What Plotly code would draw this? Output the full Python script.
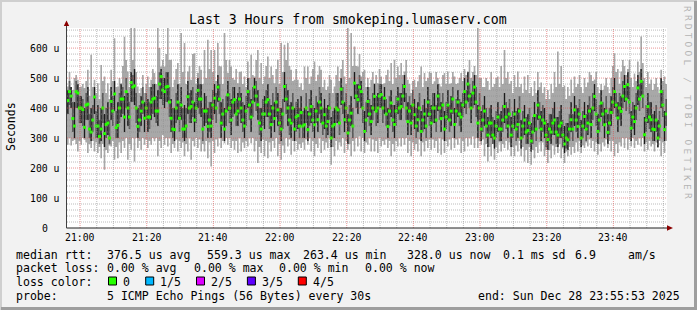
import plotly.graph_objects as go
import pandas as pd

# ---------------- data (two 30 s samples per minute, microseconds) ----------------
# "_a" = first 30 s sample of each minute, "_b" = second 30 s sample
median_a_us = [425, 440, 340, 450, 400, 336, 413, 320, 437, 340, 330, 315, 350, 422, 447, 342, 430, 370, 400, 485,
               474, 339, 390, 366, 370, 420, 433, 390, 505, 455, 472, 366, 328, 420, 410, 330, 438, 405, 360, 459,
               430, 390, 339, 340, 433, 470, 350, 330, 444, 360, 428, 390, 400, 340, 455, 370, 470, 411, 330, 380,
               428, 345, 365, 394, 330, 472, 400, 350, 330, 375, 385, 344, 328, 405, 344, 361, 400, 378, 355, 300,
               345, 394, 463, 361, 317, 383, 483, 428, 455, 322, 422, 355, 439, 400, 445, 433, 339, 417, 345, 430,
               405, 472, 355, 350, 378, 361, 322, 380, 420, 350, 400, 440, 365, 330, 410, 390, 345, 420, 370, 455,
               480, 400, 470, 350, 330, 390, 310, 350, 300, 370, 330, 405, 340, 310, 380, 345, 300, 360, 325, 290,
               375, 410, 330, 350, 295, 320, 360, 310, 350, 280, 294, 361, 394, 339, 300, 372, 350, 345, 439, 322,
               417, 344, 319, 385, 455, 367, 389, 472, 478, 333, 355, 467, 489, 311, 405, 361, 328, 300, 455, 328]
median_b_us = [455, 365, 455, 400, 395, 410, 330, 360, 340, 305, 400, 345, 300, 390, 335, 400, 430, 455, 370, 470,
               400, 360, 420, 400, 370, 430, 390, 480, 460, 470, 420, 330, 400, 366, 330, 340, 400, 420, 400, 430,
               330, 390, 360, 410, 400, 430, 380, 390, 400, 420, 380, 430, 360, 390, 410, 420, 440, 350, 380, 420,
               380, 400, 420, 350, 380, 430, 360, 400, 370, 340, 340, 400, 380, 360, 390, 420, 350, 340, 400, 340,
               400, 350, 420, 400, 360, 340, 440, 470, 400, 360, 380, 400, 390, 440, 400, 380, 390, 360, 390, 400,
               440, 400, 390, 410, 340, 400, 360, 340, 380, 400, 360, 400, 410, 370, 360, 430, 390, 380, 410, 420,
               440, 450, 420, 400, 360, 340, 350, 310, 340, 330, 360, 370, 380, 340, 330, 390, 340, 320, 350, 320,
               330, 370, 360, 310, 330, 350, 320, 340, 310, 300, 330, 330, 360, 380, 340, 330, 390, 400, 380, 360,
               380, 390, 350, 420, 410, 400, 440, 430, 420, 370, 400, 430, 440, 360, 370, 330, 360, 340, 410, 380]
upper_a_us = [460, 470, 420, 480, 440, 400, 470, 400, 470, 410, 400, 380, 420, 470, 490, 420, 480, 440, 450, 520,
              530, 400, 440, 420, 430, 470, 480, 460, 530, 500, 520, 430, 400, 480, 470, 410, 490, 460, 420, 500,
              480, 450, 400, 420, 480, 510, 420, 400, 490, 430, 470, 450, 450, 410, 500, 430, 500, 460, 400, 440,
              480, 410, 420, 450, 400, 520, 460, 420, 400, 430, 440, 400, 390, 460, 400, 420, 450, 430, 410, 370,
              400, 450, 500, 420, 380, 440, 520, 480, 490, 390, 470, 410, 480, 450, 480, 470, 400, 460, 410, 470,
              450, 510, 420, 410, 430, 420, 390, 430, 470, 410, 450, 480, 420, 390, 460, 440, 400, 460, 420, 500,
              520, 450, 510, 410, 390, 440, 370, 410, 360, 420, 390, 450, 400, 370, 430, 400, 360, 410, 380, 350,
              420, 460, 390, 400, 350, 380, 420, 370, 410, 340, 350, 420, 440, 400, 360, 420, 410, 400, 480, 380,
              460, 400, 380, 440, 500, 420, 440, 510, 520, 390, 410, 510, 530, 370, 450, 420, 390, 360, 500, 390]
upper_b_us = [490, 420, 490, 440, 430, 450, 380, 410, 390, 360, 450, 400, 360, 440, 390, 450, 470, 500, 420, 510,
              450, 410, 470, 450, 420, 480, 440, 520, 500, 520, 470, 400, 450, 420, 400, 400, 450, 470, 450, 480,
              400, 440, 420, 460, 450, 480, 430, 440, 450, 470, 430, 470, 420, 440, 460, 470, 490, 400, 430, 460,
              430, 450, 470, 400, 430, 480, 410, 450, 420, 400, 390, 450, 430, 410, 440, 470, 400, 400, 450, 390,
              450, 400, 470, 450, 410, 400, 480, 510, 450, 420, 430, 450, 440, 480, 440, 430, 440, 410, 440, 450,
              480, 450, 440, 460, 400, 450, 410, 400, 430, 450, 410, 450, 450, 420, 410, 470, 430, 430, 450, 460,
              480, 490, 470, 450, 410, 400, 400, 370, 390, 380, 410, 420, 430, 390, 390, 440, 390, 370, 400, 370,
              380, 420, 410, 360, 380, 400, 370, 390, 360, 350, 380, 380, 410, 430, 390, 380, 440, 450, 430, 410,
              420, 440, 400, 470, 450, 450, 490, 480, 470, 420, 450, 480, 490, 410, 420, 380, 410, 390, 460, 430]
lower_a_us = [380, 400, 300, 400, 350, 300, 360, 290, 380, 300, 290, 270, 310, 360, 390, 300, 370, 320, 340, 420,
              410, 300, 340, 320, 320, 360, 370, 340, 430, 400, 420, 320, 290, 360, 360, 290, 380, 350, 320, 400,
              370, 340, 300, 300, 380, 420, 300, 290, 390, 310, 380, 340, 350, 300, 400, 320, 420, 360, 290, 330,
              370, 300, 320, 340, 290, 420, 340, 300, 290, 330, 340, 300, 290, 350, 300, 320, 350, 330, 310, 270,
              300, 350, 410, 320, 280, 340, 430, 380, 400, 290, 370, 310, 390, 350, 400, 380, 300, 370, 300, 380,
              360, 420, 310, 310, 330, 320, 290, 330, 370, 300, 350, 390, 320, 290, 360, 340, 300, 370, 320, 400,
              420, 350, 410, 300, 290, 340, 270, 300, 265, 320, 290, 350, 300, 270, 330, 300, 265, 310, 280, 255,
              320, 360, 290, 300, 260, 280, 310, 270, 300, 250, 260, 320, 340, 300, 270, 330, 310, 300, 390, 280,
              370, 300, 280, 340, 400, 320, 340, 420, 430, 290, 310, 410, 440, 280, 350, 320, 290, 270, 400, 290]
lower_b_us = [410, 320, 400, 350, 340, 360, 300, 320, 300, 280, 350, 300, 280, 340, 300, 350, 380, 400, 330, 420,
              350, 320, 380, 360, 330, 380, 350, 430, 410, 420, 370, 300, 350, 320, 300, 300, 350, 370, 350, 380,
              290, 350, 320, 360, 350, 380, 340, 340, 350, 370, 340, 380, 320, 340, 360, 370, 390, 310, 340, 370,
              330, 350, 370, 310, 330, 380, 310, 350, 320, 300, 300, 350, 340, 320, 350, 380, 310, 300, 360, 300,
              350, 310, 380, 350, 320, 300, 400, 420, 350, 320, 340, 360, 340, 400, 350, 340, 340, 320, 340, 360,
              400, 360, 350, 360, 300, 360, 320, 300, 340, 350, 320, 360, 370, 330, 320, 380, 350, 340, 370, 380,
              400, 400, 370, 360, 320, 300, 310, 280, 300, 290, 320, 330, 340, 300, 290, 350, 300, 280, 310, 280,
              290, 330, 320, 270, 290, 310, 280, 300, 270, 265, 290, 290, 320, 340, 300, 290, 350, 360, 340, 320,
              340, 350, 310, 380, 370, 360, 400, 390, 380, 330, 360, 390, 400, 320, 330, 290, 320, 300, 370, 340]
min_a_us = [278, 275, 294, 255, 278, 294, 250, 267, 255, 250, 233, 194, 250, 272, 228, 233, 250, 267, 228, 261,
            222, 267, 261, 278, 267, 278, 289, 239, 267, 278, 272, 250, 267, 255, 267, 239, 255, 228, 272, 267,
            255, 255, 233, 205, 250, 272, 267, 283, 278, 267, 261, 250, 255, 267, 272, 283, 255, 217, 250, 239,
            233, 255, 267, 239, 228, 250, 272, 244, 255, 261, 267, 261, 278, 255, 239, 267, 250, 261, 267, 211,
            239, 261, 272, 250, 261, 239, 255, 272, 255, 250, 278, 255, 255, 250, 272, 278, 267, 239, 255, 272,
            272, 278, 250, 239, 261, 255, 239, 255, 267, 261, 267, 250, 244, 250, 272, 261, 267, 278, 250, 255,
            272, 278, 267, 267, 278, 239, 222, 239, 228, 250, 255, 267, 261, 239, 239, 255, 239, 222, 217, 211,
            233, 250, 255, 239, 217, 233, 244, 250, 233, 217, 239, 244, 250, 255, 250, 267, 272, 267, 255, 244,
            255, 272, 267, 255, 239, 250, 272, 267, 261, 272, 267, 278, 272, 255, 261, 272, 255, 267, 239, 250]
min_b_us = [300, 290, 280, 290, 300, 285, 280, 290, 285, 270, 280, 260, 275, 290, 270, 285, 290, 300, 280, 300,
            300, 290, 300, 295, 290, 300, 300, 290, 310, 300, 300, 280, 295, 290, 285, 280, 300, 290, 300, 295,
            280, 290, 285, 290, 295, 300, 290, 300, 300, 290, 290, 300, 285, 290, 300, 300, 290, 270, 295, 290,
            285, 290, 300, 280, 275, 300, 295, 290, 290, 280, 285, 295, 300, 290, 280, 300, 290, 285, 300, 270,
            290, 285, 300, 290, 280, 290, 300, 305, 300, 285, 300, 295, 290, 300, 290, 295, 290, 280, 290, 300,
            300, 300, 290, 285, 280, 295, 285, 290, 295, 295, 290, 300, 295, 290, 295, 300, 295, 300, 290, 300,
            300, 305, 300, 290, 295, 280, 270, 280, 270, 285, 280, 290, 285, 270, 275, 290, 270, 260, 270, 260,
            270, 285, 285, 260, 260, 275, 270, 280, 265, 255, 270, 270, 285, 290, 275, 285, 295, 290, 285, 280,
            285, 295, 290, 290, 280, 285, 300, 300, 295, 300, 290, 300, 300, 285, 290, 280, 285, 290, 285, 290]
max_a_us = [472, 470, 500, 494, 472, 467, 528, 578, 494, 483, 544, 505, 483, 528, 633, 472, 483, 638, 522, 667,
            667, 472, 467, 450, 505, 494, 517, 667, 539, 539, 667, 561, 494, 550, 650, 617, 522, 494, 583, 517,
            528, 594, 628, 594, 594, 617, 539, 650, 517, 539, 494, 483, 522, 505, 555, 578, 505, 594, 550, 505,
            572, 539, 483, 561, 617, 611, 617, 528, 494, 494, 483, 539, 539, 505, 555, 511, 528, 494, 472, 494,
            472, 539, 530, 505, 667, 650, 605, 539, 505, 528, 500, 494, 483, 483, 505, 483, 528, 550, 561, 539,
            550, 522, 494, 450, 494, 489, 539, 517, 500, 517, 489, 500, 472, 517, 522, 483, 505, 483, 517, 530,
            522, 500, 540, 667, 500, 470, 490, 520, 480, 505, 540, 594, 520, 490, 510, 522, 480, 505, 510, 470,
            490, 520, 485, 470, 460, 480, 520, 589, 540, 475, 470, 495, 505, 480, 470, 500, 485, 510, 495, 470,
            480, 475, 470, 500, 583, 530, 522, 540, 530, 500, 515, 555, 639, 500, 520, 495, 480, 470, 528, 505]
max_b_us = [520, 460, 510, 470, 480, 490, 440, 470, 450, 430, 490, 450, 430, 490, 470, 500, 540, 560, 470, 560,
            520, 450, 510, 480, 470, 530, 480, 600, 560, 580, 560, 470, 530, 480, 520, 480, 540, 580, 480, 540,
            480, 500, 530, 520, 490, 540, 480, 560, 560, 500, 530, 520, 480, 470, 500, 510, 560, 500, 480, 540,
            500, 510, 530, 480, 520, 560, 540, 490, 530, 470, 460, 500, 480, 530, 490, 540, 470, 460, 510, 450,
            510, 490, 560, 480, 500, 540, 540, 580, 520, 470, 470, 520, 510, 530, 480, 510, 490, 480, 500, 510,
            510, 560, 480, 490, 470, 510, 470, 490, 520, 480, 520, 480, 510, 480, 480, 520, 480, 500, 490, 510,
            560, 520, 510, 500, 470, 500, 460, 470, 500, 470, 480, 500, 480, 450, 470, 470, 450, 460, 450, 440,
            450, 470, 450, 430, 430, 450, 470, 480, 470, 430, 440, 450, 470, 510, 450, 470, 520, 490, 520, 450,
            460, 500, 450, 540, 520, 480, 560, 510, 560, 470, 490, 520, 550, 470, 480, 460, 500, 450, 490, 480]

y_tick_values = [0, 100, 200, 300, 400, 500, 600]
y_tick_labels = ["0", "100 u", "200 u", "300 u", "400 u", "500 u", "600 u"]
x_tick_labels = ["21:00", "21:20", "21:40", "22:00", "22:20", "22:40", "23:00", "23:20", "23:40"]

title_text = "Last 3 Hours from smokeping.lumaserv.com"
legend_rows = [
    [(16, "median rtt:"), (107, "376.5 us avg"), (207.3, "559.3 us max"), (303, "263.4 us min"),
     (407.3, "328.0 us now"), (503, "0.1 ms sd"), (575, "6.9"), (628.3, "am/s")],
    [(16, "packet loss:"), (107, "0.00 % avg"), (193.7, "0.00 % max"), (279.3, "0.00 % min"), (365, "0.00 % now")],
    [(16, "loss color:")],
    [(16, "probe:"), (107, "5 ICMP Echo Pings (56 Bytes) every 30s"), (478.3, "end: Sun Dec 28 23:55:53 2025")],
]
loss_labels = ["0", "1/5", "2/5", "3/5", "4/5"]
loss_colors = ["#26ff00", "#00b8ff", "#dd00ff", "#5e00ff", "#ff0000"]

# ---------------- geometry ----------------
W, H = 697, 310
L, R, T, B = 67, 30, 28, 82
PW, PH = W - L - R, H - T - B
YMAX = 667


def px(x):
    return (x - L) / PW


def py(y):
    return (H - B - y) / PH


start = pd.Timestamp("2025-12-28 20:56:05")
end = start + pd.Timedelta(minutes=180)

# interleave the two 30 s samples in time order (step start times)
n = len(median_a_us)
t_start, med, upp, low, mn, mx = [], [], [], [], [], []
for k in range(n):
    for off, m_, u_, l_, a_, b_ in ((0, median_a_us, upper_a_us, lower_a_us, min_a_us, max_a_us),
                                    (30, median_b_us, upper_b_us, lower_b_us, min_b_us, max_b_us)):
        t_start.append(start + pd.Timedelta(seconds=60 * k + off))
        med.append(m_[k]); upp.append(u_[k]); low.append(l_[k]); mn.append(a_[k]); mx.append(b_[k])
t_centre = [t + pd.Timedelta(seconds=15) for t in t_start]
# close the last step at the right edge
t_step = t_start + [end]
mn_s, mx_s, low_s, upp_s = mn + [mn[-1]], mx + [mx[-1]], low + [low[-1]], upp + [upp[-1]]

# darkest core strokes (first sample of every minute)
core_x, core_y = [], []
for k in range(n):
    tc = start + pd.Timedelta(seconds=60 * k + 15)
    core_x += [tc, tc, None]
    core_y += [lower_a_us[k], upper_a_us[k], None]

FONT = "DejaVu Sans Mono"
fig = go.Figure()
step = dict(shape="hv", width=0)
fig.add_trace(go.Scatter(x=t_step, y=mn_s, mode="lines", line=step, hoverinfo="skip"))
fig.add_trace(go.Scatter(x=t_step, y=mx_s, mode="lines", line=step, fill="tonexty",
                         fillcolor="#a8a8a8", hoverinfo="skip"))
fig.add_trace(go.Scatter(x=t_step, y=low_s, mode="lines", line=step, hoverinfo="skip"))
fig.add_trace(go.Scatter(x=t_step, y=upp_s, mode="lines", line=step, fill="tonexty",
                         fillcolor="#5c5c5c", hoverinfo="skip"))
fig.add_trace(go.Scatter(x=core_x, y=core_y, mode="lines", line=dict(color="#1c1c1c", width=1),
                         connectgaps=False, hoverinfo="skip"))
fig.add_trace(go.Scatter(x=t_centre, y=med, mode="markers",
                         marker=dict(symbol="square", size=3, color="#26ff00", line=dict(width=0)),
                         hoverinfo="skip"))

shapes = []
# grid lines (drawn on top, like rrdtool)
for v in range(20, YMAX, 20):
    major = v % 100 == 0
    shapes.append(dict(type="line", xref="paper", yref="y", x0=0, x1=1, y0=v, y1=v, layer="above",
                       line=dict(color="rgba(222,80,80,0.6)" if major else "rgba(143,143,143,0.6)",
                                 width=1, dash="1px,1px")))
t = pd.Timestamp("2025-12-28 21:00:00")
while t < end:
    if t > start:
        major = t.minute % 20 == 0
        shapes.append(dict(type="line", xref="x", yref="paper", x0=t, x1=t, y0=0, y1=1, layer="above",
                           line=dict(color="rgba(222,80,80,0.6)" if major else "rgba(143,143,143,0.6)",
                                     width=1, dash="1px,1px")))
    t += pd.Timedelta(minutes=5)

# axes lines + arrows
shapes.append(dict(type="line", xref="paper", yref="paper", x0=px(66.5), x1=px(668), y0=0, y1=0,
                   layer="above", line=dict(color="#202020", width=1)))
shapes.append(dict(type="line", xref="paper", yref="paper", x0=px(66.5), x1=px(66.5), y0=0, y1=py(23),
                   layer="above", line=dict(color="#404040", width=1)))
shapes.append(dict(type="path", xref="paper", yref="paper", layer="above",
                   path=f"M {px(667)} {py(225.3)} L {px(673)} {py(228)} L {px(667)} {py(230.7)} Z",
                   fillcolor="#8b0000", line=dict(width=0)))
shapes.append(dict(type="path", xref="paper", yref="paper", layer="above",
                   path=f"M {px(63.8)} {py(26)} L {px(66.5)} {py(20.5)} L {px(69.2)} {py(26)} Z",
                   fillcolor="#8b0000", line=dict(width=0)))
# 3D frame
shapes.append(dict(type="rect", xref="paper", yref="paper", x0=px(0), x1=px(W), y0=py(0), y1=py(2),
                   fillcolor="#cfcfcf", line=dict(width=0), layer="above"))
shapes.append(dict(type="rect", xref="paper", yref="paper", x0=px(0), x1=px(2), y0=py(0), y1=py(H),
                   fillcolor="#cfcfcf", line=dict(width=0), layer="above"))
shapes.append(dict(type="rect", xref="paper", yref="paper", x0=px(W - 3), x1=px(W), y0=py(1), y1=py(H),
                   fillcolor="#9e9e9e", line=dict(width=0), layer="above"))
shapes.append(dict(type="rect", xref="paper", yref="paper", x0=px(1), x1=px(W), y0=py(H - 3), y1=py(H),
                   fillcolor="#9e9e9e", line=dict(width=0), layer="above"))
# loss color boxes
box_x = [108.5, 145.7, 196.5, 247.4, 298.3]
label_x = [123.3, 160, 211.2, 262.2, 313.2]
for bx, c in zip(box_x, loss_colors):
    shapes.append(dict(type="rect", xref="paper", yref="paper", x0=px(bx), x1=px(bx + 8),
                       y0=py(277), y1=py(285), fillcolor=c, line=dict(color="#000000", width=1),
                       layer="above"))

ann = []


def text(x, y, s, size=11.55, xanchor="left", color="#000000", angle=0, xref="paper"):
    ann.append(dict(x=x if xref != "paper" else px(x), y=py(y), xref=xref, yref="paper", text=s,
                    showarrow=False, xanchor=xanchor, yanchor="middle", textangle=angle,
                    font=dict(family=FONT, size=size, color=color), borderpad=0, borderwidth=0))


text(347.5, 19.5, title_text, size=13.2, xanchor="center")
text(11, 127, "Seconds", size=11.55, xanchor="center", angle=-90)
mark = "RRDTOOL / TOBI OETIKER"
for i, ch in enumerate(mark):
    if ch != " ":
        text(688, 9 + i * 8.9, ch, size=9.5, xanchor="center", color="#b4b4b4", angle=90)
for v, lab in zip(y_tick_values, y_tick_labels):
    yy = (H - B) - v / YMAX * PH
    if lab == "0":
        text(47.5, yy, lab, size=9.8, xanchor="right")
    else:
        text(60, yy, lab, size=9.8, xanchor="right")
for lab in x_tick_labels:
    tt = pd.Timestamp("2025-12-28 " + lab)
    text(tt, 237, lab, size=9.8, xanchor="center", xref="x")
row_y = [254.5, 268, 282, 296]
for ry, row in zip(row_y, legend_rows):
    for x, s in row:
        text(x, ry, s)
for lx, lab in zip(label_x, loss_labels):
    text(lx, 282, lab)

fig.update_layout(
    width=W, height=H, margin=dict(l=L, r=R, t=T, b=B, pad=0),
    paper_bgcolor="#f2f2f2", plot_bgcolor="#ffffff",
    showlegend=False,
    xaxis=dict(type="date", range=[start, end], showgrid=False, zeroline=False, showticklabels=False,
               showline=False, ticks=""),
    yaxis=dict(range=[0, YMAX], showgrid=False, zeroline=False, showticklabels=False, showline=False,
               ticks=""),
    shapes=shapes, annotations=ann,
)
fig.write_html("out.html", config={"displayModeBar": False})
